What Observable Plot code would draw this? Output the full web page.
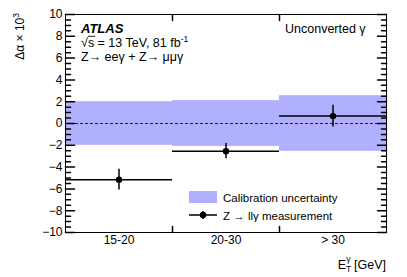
<!DOCTYPE html>
<html><head><meta charset="utf-8">
<script src="https://cdn.jsdelivr.net/npm/d3@7"></script>
<script src="https://cdn.jsdelivr.net/npm/@observablehq/plot@0.6"></script>
<style>html,body{margin:0;padding:0;background:#fff;} svg{display:block;}</style>
</head><body><div id="chart"></div>
<script>
// ---- data ----
const categories = ["15-20", "20-30", "> 30"];
const binEdges = [0, 1, 2, 3];
const calibUnc = [2.0, 2.1, 2.55];
const measured = [-5.15, -2.54, 0.68];
const measuredErr = [0.95, 0.7, 1.0];
const yMajorTicks = [-10, -8, -6, -4, -2, 0, 2, 4, 6, 8, 10];
const yMinorTicks = d3.range(-10, 10.01, 0.5).filter(v => v % 2 !== 0);
const xEdgeTicks = [1, 2];

const rows = categories.map((c, i) => ({
  cat: c, lo: binEdges[i], hi: binEdges[i + 1], mid: (binEdges[i] + binEdges[i + 1]) / 2,
  unc: calibUnc[i], val: measured[i], err: measuredErr[i]
}));

const FONT = "'Liberation Sans', Arial, Helvetica, sans-serif";
const BAND = "#b0b0ff";
const tickShape = {draw(ctx, l) { ctx.moveTo(0, 0); ctx.lineTo(0, -l); }};
const fmt = d => d < 0 ? "\u2212" + Math.abs(d) : String(d);

const chart = Plot.plot({
  width: 407, height: 277,
  marginLeft: 65, marginRight: 21, marginTop: 14, marginBottom: 45,
  style: {fontFamily: FONT, fontSize: "12px", background: "white", color: "black", overflow: "visible"},
  x: {domain: [0, 3], axis: null, label: null},
  y: {domain: [-10, 10], axis: null, label: null},
  marks: [
    Plot.rect(rows, {x1: "lo", x2: "hi", y1: d => -d.unc, y2: d => d.unc, fill: BAND}),
    Plot.ruleY([0], {stroke: "#222", strokeWidth: 1, strokeDasharray: "3,2"}),
    Plot.ruleY(rows, {y: "val", x1: "lo", x2: "hi", stroke: "black", strokeWidth: 1.5}),
    Plot.ruleX(rows, {x: "mid", y1: d => d.val - d.err, y2: d => d.val + d.err, stroke: "black", strokeWidth: 1.5}),
    Plot.dot(rows, {x: "mid", y: "val", r: 3.2, fill: "black", stroke: "none"}),
    // inward ticks
    Plot.vector(yMajorTicks, {y: d => d, frameAnchor: "left", length: 9, rotate: 90, anchor: "start", shape: tickShape, stroke: "black"}),
    Plot.vector(yMinorTicks, {y: d => d, frameAnchor: "left", length: 5, rotate: 90, anchor: "start", shape: tickShape, stroke: "black"}),
    Plot.vector(yMajorTicks, {y: d => d, frameAnchor: "right", length: 9, rotate: -90, anchor: "start", shape: tickShape, stroke: "black"}),
    Plot.vector(yMinorTicks, {y: d => d, frameAnchor: "right", length: 5, rotate: -90, anchor: "start", shape: tickShape, stroke: "black"}),
    Plot.vector(xEdgeTicks, {x: d => d, frameAnchor: "bottom", length: 6, rotate: 0, anchor: "start", shape: tickShape, stroke: "black"}),
    Plot.vector(xEdgeTicks, {x: d => d, frameAnchor: "top", length: 6, rotate: 180, anchor: "start", shape: tickShape, stroke: "black"}),
    Plot.frame({stroke: "black", strokeWidth: 1}),
    Plot.axisY({ticks: yMajorTicks, tickSize: 0, tickPadding: 3, tickFormat: fmt, fontSize: 12, label: null}),
    Plot.axisX({ticks: rows.map(d => d.mid), tickSize: 0, tickPadding: 3, tickFormat: d => categories[Math.floor(d)], fontSize: 12, label: null})
  ]
});
document.getElementById("chart").appendChild(chart);

// ---- annotations, axis titles and legend ----
const svg = d3.select(chart);
const g = svg.append("g").attr("font-family", FONT).attr("fill", "black").attr("text-anchor", "start");

g.append("text").attr("x", 81).attr("y", 32.5).attr("font-size", 13)
  .attr("font-weight", "bold").attr("font-style", "italic").text("ATLAS");

const l2 = g.append("text").attr("x", 81).attr("y", 46.5).attr("font-size", 12.5);
l2.append("tspan").text("\u221A");
l2.append("tspan").text("s = 13 TeV, 81 fb");
l2.append("tspan").attr("font-size", 8.5).attr("dy", -5).text("-1");
// overbar for sqrt
g.append("line").attr("x1", 88).attr("x2", 95).attr("y1", 36.3).attr("y2", 36.3)
  .attr("stroke", "black").attr("stroke-width", 0.9);

g.append("text").attr("x", 81).attr("y", 60.8).attr("font-size", 12.5)
  .text("Z\u2192 ee\u03B3 + Z\u2192 \u03BC\u03BC\u03B3");

g.append("text").attr("x", 285).attr("y", 33).attr("font-size", 12.5).text("Unconverted \u03B3");

// y title
const yt = g.append("text").attr("transform", "translate(24,13) rotate(-90)")
  .attr("text-anchor", "end").attr("font-size", 12);
yt.append("tspan").text("\u0394\u03B1 \u00D7 10");
yt.append("tspan").attr("font-size", 8.5).attr("dy", -5).text("3");

// x title
const xt = g.append("text").attr("x", 386).attr("y", 268.5).attr("text-anchor", "end").attr("font-size", 12.5);
xt.append("tspan").text("E");
xt.append("tspan").attr("font-size", 8.5).attr("dy", 3).text("T");
xt.append("tspan").attr("font-size", 8.5).attr("dx", -5).attr("dy", -10).text("\u03B3");
xt.append("tspan").attr("dy", 7).text(" [GeV]");

// legend
g.append("rect").attr("x", 189).attr("y", 191).attr("width", 28).attr("height", 12).attr("fill", BAND);
g.append("text").attr("x", 223).attr("y", 201.5).attr("font-size", 11.5).text("Calibration uncertainty");
g.append("line").attr("x1", 189).attr("x2", 217).attr("y1", 215).attr("y2", 215).attr("stroke", "black").attr("stroke-width", 1.5);
g.append("line").attr("x1", 203).attr("x2", 203).attr("y1", 211).attr("y2", 219).attr("stroke", "black").attr("stroke-width", 1.5);
g.append("circle").attr("cx", 203).attr("cy", 215).attr("r", 3.2).attr("fill", "black");
g.append("text").attr("x", 223).attr("y", 219.8).attr("font-size", 11.5).text("Z \u2192 ll\u03B3 measurement");
</script>
</body></html>
